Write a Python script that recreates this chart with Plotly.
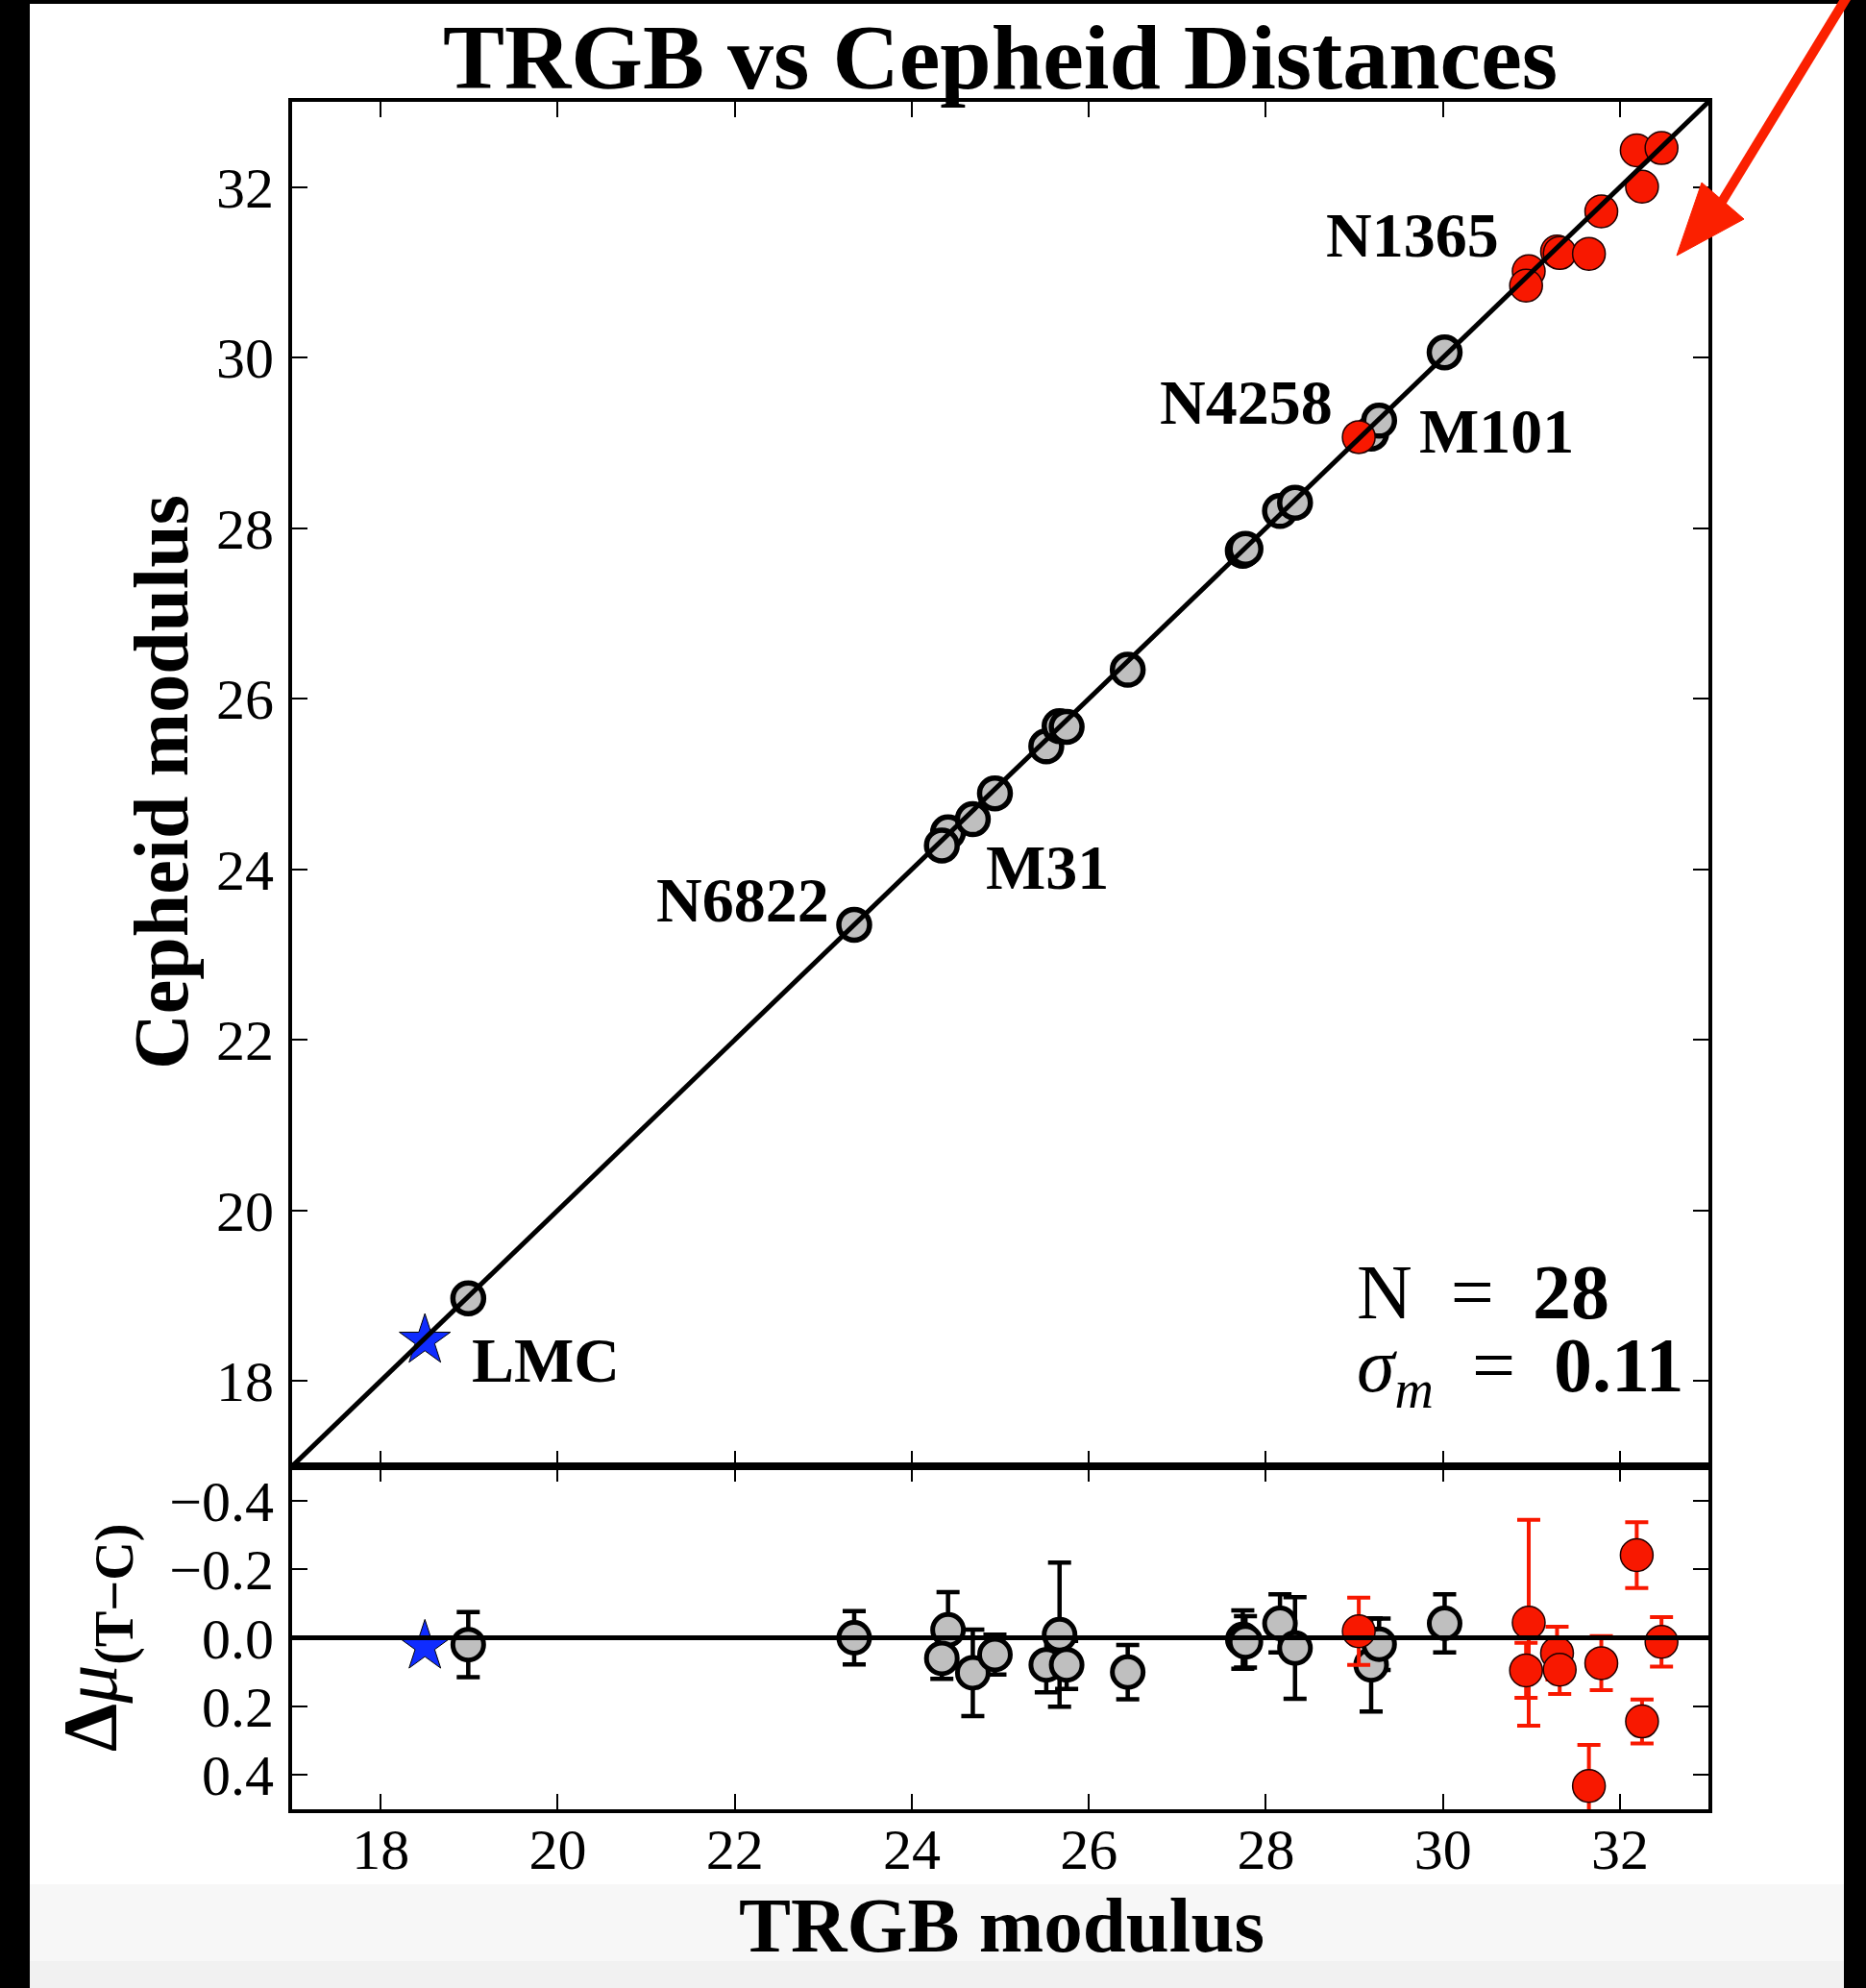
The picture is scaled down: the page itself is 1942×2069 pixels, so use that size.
import plotly.graph_objects as go

# ---------------- data ----------------
# grey galaxies: TRGB modulus, Cepheid modulus, residual error
gray_trgb = [18.99, 23.35, 24.41, 24.34, 24.69, 24.94, 25.52, 25.67, 25.75, 26.44,
             27.74, 27.77, 28.16, 28.33, 29.19, 29.28, 30.02]
gray_ceph = [18.97, 23.35, 24.433, 24.28, 24.588, 24.891, 25.441, 25.679, 25.671, 26.34,
             27.735, 27.758, 28.202, 28.30, 29.111, 29.261, 30.062]
gray_err = [0.095, 0.078, 0.11, 0.060, 0.126, 0.058, 0.080, 0.21, 0.070, 0.079,
            0.085, 0.075, 0.085, 0.148, 0.136, 0.075, 0.085]

# red galaxies (SN hosts)
red_trgb = [29.05, 30.97, 30.94, 31.29, 31.32, 31.65, 31.79, 32.19, 32.25, 32.47]
red_ceph = [29.069, 31.014, 30.845, 31.245, 31.227, 31.218, 31.716, 32.431, 32.006, 32.458]
red_err = [0.098, 0.30, 0.08, 0.077, 0.071, 0.12, 0.079, 0.096, 0.064, 0.072]

# LMC anchor
lmc_trgb = [18.50]
lmc_ceph = [18.475]

# galaxy name labels
label_names = ["N1365", "N4258", "M101", "N6822", "M31", "LMC"]

# axes
axis_range = [17, 33]
main_ticks = [18, 20, 22, 24, 26, 28, 30, 32]
res_ticks = [-0.4, -0.2, 0.0, 0.2, 0.4]
res_ticktext = ["\u22120.4", "\u22120.2", "0.0", "0.2", "0.4"]

gray_res = [t - c for t, c in zip(gray_trgb, gray_ceph)]
red_res = [t - c for t, c in zip(red_trgb, red_ceph)]
lmc_res = [t - c for t, c in zip(lmc_trgb, lmc_ceph)]

# ---------------- layout geometry ----------------
W, H = 1942, 2069
ML, MR, MT, MB = 304, 164, 106, 186
PW = W - ML - MR
PH = H - MT - MB
SPLIT = (H - MB - 1526) / PH  # residual panel height fraction


def pxx(px):
    return (px - ML) / PW


def pxy(py):
    return (H - MB - py) / PH


FONT = "Liberation Serif"
RED = "#f81800"
GREY = "#bfbfbf"
BLUE = "#0f2cff"

fig = go.Figure()

# main panel
fig.add_trace(go.Scatter(x=gray_trgb, y=gray_ceph, mode="markers", xaxis="x", yaxis="y",
                         cliponaxis=False,
                         marker=dict(size=32, color=GREY, line=dict(color="black", width=5.5))))
fig.add_trace(go.Scatter(x=red_trgb, y=red_ceph, mode="markers", xaxis="x", yaxis="y",
                         cliponaxis=False,
                         marker=dict(size=34, color=RED, line=dict(color="#200000", width=1.5))))
fig.add_trace(go.Scatter(x=lmc_trgb, y=lmc_ceph, mode="markers", xaxis="x", yaxis="y",
                         cliponaxis=False,
                         marker=dict(symbol="star", size=40, color=BLUE,
                                     line=dict(color="black", width=1))))
fig.add_trace(go.Scatter(x=axis_range, y=axis_range, mode="lines", xaxis="x", yaxis="y",
                         line=dict(color="black", width=5)))

# residual panel
fig.add_trace(go.Scatter(x=gray_trgb, y=gray_res, mode="markers", xaxis="x2", yaxis="y2",
                         cliponaxis=False,
                         error_y=dict(type="data", array=gray_err, color="black",
                                      thickness=4.5, width=12),
                         marker=dict(size=32, color=GREY, line=dict(color="black", width=5))))
fig.add_trace(go.Scatter(x=red_trgb, y=red_res, mode="markers", xaxis="x2", yaxis="y2",
                         cliponaxis=False,
                         error_y=dict(type="data", array=red_err, color=RED,
                                      thickness=4, width=12),
                         marker=dict(size=34, color=RED, line=dict(color="#200000", width=1.5))))
fig.add_trace(go.Scatter(x=lmc_trgb, y=lmc_res, mode="markers", xaxis="x2", yaxis="y2",
                         cliponaxis=False,
                         marker=dict(symbol="star", size=40, color=BLUE,
                                     line=dict(color="black", width=1))))
fig.add_trace(go.Scatter(x=axis_range, y=[0, 0], mode="lines", xaxis="x2", yaxis="y2",
                         line=dict(color="black", width=5)))

common = dict(showgrid=False, zeroline=False, showline=True, linecolor="black", linewidth=4,
              mirror="ticks", ticks="inside", ticklen=16, tickwidth=2, tickcolor="black",
              tickfont=dict(family=FONT, size=60, color="black"))

fig.update_layout(
    width=W, height=H, autosize=False,
    margin=dict(l=ML, r=MR, t=MT, b=MB),
    paper_bgcolor="white", plot_bgcolor="white", showlegend=False,
    xaxis=dict(domain=[0, 1], anchor="y", range=axis_range, tickvals=main_ticks,
               showticklabels=False, **common),
    xaxis2=dict(domain=[0, 1], anchor="y2", range=axis_range, tickvals=main_ticks,
                ticklabelstandoff=-14, **common),
    yaxis=dict(domain=[SPLIT, 1], anchor="x", range=axis_range, tickvals=main_ticks,
               ticklabelstandoff=3, **common),
    yaxis2=dict(domain=[0, SPLIT], anchor="x2", range=[0.5, -0.5], tickvals=res_ticks,
                ticktext=res_ticktext, ticklabelstandoff=3, **common),
)

ann = []
# galaxy labels (placement per label)
label_pos = [(30.655, 31.44, "right"), (28.778, 29.48, "right"), (29.711, 29.14, "left"),
             (23.09, 23.645, "right"), (24.815, 24.03, "left"), (19.008, 18.24, "left")]
for name, (lx, ly, anc) in zip(label_names, label_pos):
    ann.append(dict(x=lx, y=ly, xref="x", yref="y", text="<b>%s</b>" % name, showarrow=False,
                    xanchor=anc, yanchor="middle",
                    font=dict(family=FONT, size=66, color="black")))

# statistics text
ann.append(dict(x=29.0, y=19.04, xref="x", yref="y", showarrow=False, xanchor="left",
                yanchor="middle", text="N\u00a0\u00a0=\u00a0\u00a0<b>28</b>",
                font=dict(family=FONT, size=80, color="black")))
ann.append(dict(x=29.0, y=18.12, xref="x", yref="y", showarrow=False, xanchor="left",
                yanchor="middle",
                text="<i>\u03c3</i><sub><i>m</i></sub>\u00a0\u00a0=\u00a0\u00a0<b>0.11</b>",
                font=dict(family=FONT, size=80, color="black")))

# titles
ann.append(dict(x=0.5, y=pxy(60), xref="paper", yref="paper", showarrow=False,
                xanchor="center", yanchor="middle", text="<b>TRGB vs Cepheid Distances</b>",
                font=dict(family=FONT, size=96, color="black")))
ann.append(dict(x=pxx(168), y=pxy(814), xref="paper", yref="paper", showarrow=False,
                xanchor="center", yanchor="middle", textangle=-90,
                text="<b>Cepheid modulus</b>",
                font=dict(family=FONT, size=80, color="black")))
ann.append(dict(x=pxx(100), y=pxy(1705), xref="paper", yref="paper", showarrow=False,
                xanchor="center", yanchor="middle", textangle=-90,
                text="<b>\u0394</b><i>\u03bc</i><sub><b>(T\u2212C)</b></sub>",
                font=dict(family=FONT, size=80, color="black")))
ann.append(dict(x=pxx(1042), y=pxy(2004), xref="paper", yref="paper", showarrow=False,
                xanchor="center", yanchor="middle", text="<b>TRGB modulus</b>",
                font=dict(family=FONT, size=81, color="black")))
fig.update_layout(annotations=ann)

# page decorations: black border, grey bottom band, red arrow
shapes = [
    dict(type="rect", xref="paper", yref="paper", x0=pxx(31), x1=pxx(1919), y0=pxy(2069), y1=pxy(1961),
         fillcolor="#f7f7f7", line=dict(width=0), layer="below"),
    dict(type="rect", xref="paper", yref="paper", x0=pxx(31), x1=pxx(1919), y0=pxy(2069), y1=pxy(2041),
         fillcolor="#f1f1f1", line=dict(width=0), layer="below"),
    dict(type="rect", xref="paper", yref="paper", x0=pxx(0), x1=pxx(31), y0=pxy(2069), y1=pxy(0),
         fillcolor="black", line=dict(width=0), layer="above"),
    dict(type="rect", xref="paper", yref="paper", x0=pxx(1919), x1=pxx(1942), y0=pxy(2069), y1=pxy(0),
         fillcolor="black", line=dict(width=0), layer="above"),
    dict(type="rect", xref="paper", yref="paper", x0=pxx(0), x1=pxx(1942), y0=pxy(4), y1=pxy(0),
         fillcolor="black", line=dict(width=0), layer="above"),
    dict(type="line", xref="paper", yref="paper", x0=pxx(1925), y0=pxy(-8), x1=pxx(1792), y1=pxy(210),
         line=dict(color="#fb2000", width=10), layer="above"),
    dict(type="path", xref="paper", yref="paper",
         path="M %f,%f L %f,%f L %f,%f Z" % (pxx(1745), pxy(266), pxx(1771), pxy(190),
                                             pxx(1815), pxy(228)),
         fillcolor="#fb2000", line=dict(color="#fb2000", width=1), layer="above"),
]
fig.update_layout(shapes=shapes)

fig.write_html("out.html")
